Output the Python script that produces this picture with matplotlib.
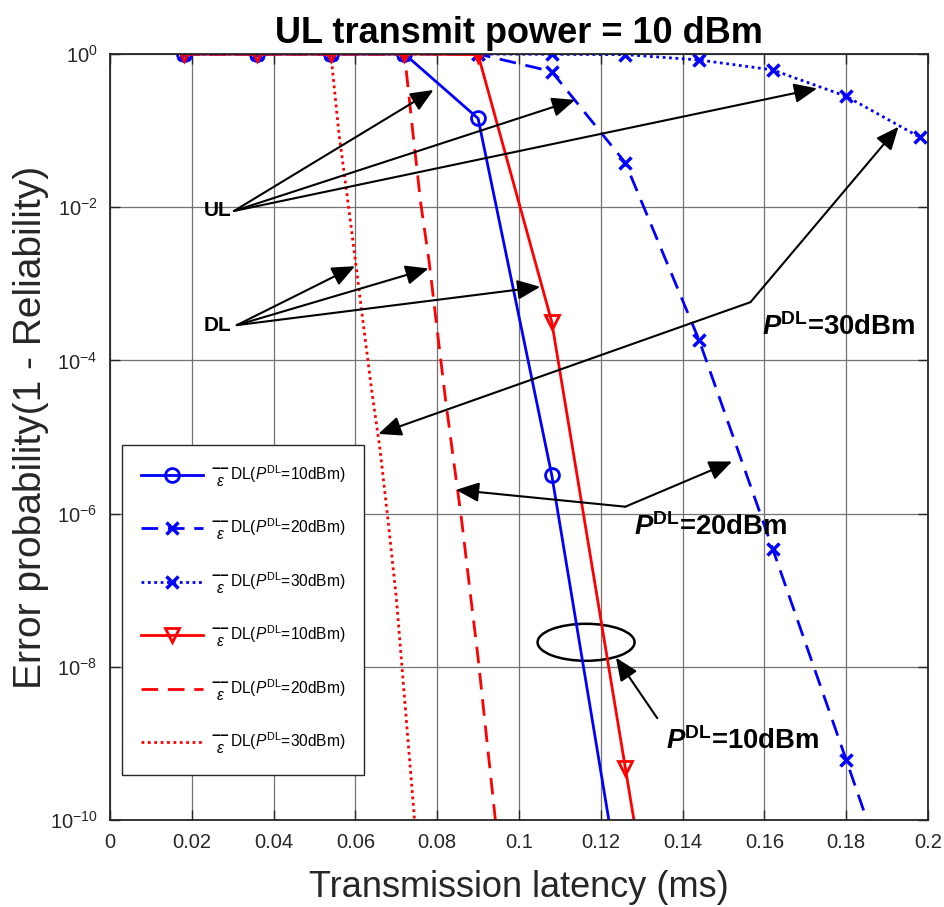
import numpy as np
import matplotlib.pyplot as plt
from matplotlib.patches import Ellipse

plt.rcParams['font.family'] = ['Liberation Sans', 'DejaVu Sans']
plt.rcParams['mathtext.fontset'] = 'custom'
plt.rcParams['mathtext.rm'] = 'Liberation Sans'
plt.rcParams['mathtext.it'] = 'Liberation Sans:italic'
plt.rcParams['mathtext.bf'] = 'Liberation Sans:bold'
plt.rcParams['mathtext.bfit'] = 'Liberation Sans:italic:bold'

# data
x_pts = [0.018, 0.036, 0.054, 0.072, 0.090, 0.108, 0.126, 0.144, 0.162, 0.180, 0.198]
blue_10 = [1, 1, 1, 1, 0.144, 3.2e-6, 5e-12]
blue_20 = [1, 1, 1, 1, 1, 0.59, 0.038, 1.86e-4, 3.5e-7, 6.1e-10, 1e-12]
blue_30 = [1, 1, 1, 1, 1, 0.99, 0.98, 0.835, 0.62, 0.28, 0.082]
red_10 = [1, 1, 1, 1, 0.98, 3.2e-4, 4.8e-10, 7e-16]

x_red20 = [0.018, 0.036, 0.054, 0.072, 0.074, 0.076, 0.078, 0.080, 0.082,
           0.084, 0.086, 0.088, 0.090, 0.092, 0.094, 0.096]
red_20 = [1, 1, 1, 1, 0.1, 1.1e-2, 2e-3, 2.5e-4, 3.2e-5,
          5e-6, 8e-7, 1e-7, 1.3e-8, 1.3e-9, 1.3e-10, 1.3e-11]
x_red30 = [0.018, 0.036, 0.054, 0.056, 0.058, 0.060, 0.062, 0.064, 0.066,
           0.068, 0.070, 0.072, 0.074, 0.076]
red_30 = [1, 1, 1, 8.9e-2, 1.4e-2, 2e-3, 2.8e-4, 4e-5, 7e-6,
          8e-7, 8e-8, 4e-9, 2e-10, 1e-11]

x_ticks = [0, 0.02, 0.04, 0.06, 0.08, 0.1, 0.12, 0.14, 0.16, 0.18, 0.2]
x_ticklabels = ['0', '0.02', '0.04', '0.06', '0.08', '0.1', '0.12', '0.14', '0.16', '0.18', '0.2']
y_exps = [0, -2, -4, -6, -8, -10]

def lab(p):
    bar = '\u2013\u2013'
    return (r'$\genfrac{}{}{0}{0}{\mathbf{' + bar + r'}}{\epsilon}$DL($P^{\mathrm{DL}}$='
            + p + 'dBm)')

dash = (0, (6, 3.5))
dot = (0, (1, 1.3))
lw = 2.0

fig = plt.figure(figsize=(9.45, 9.07), dpi=100)
ax = fig.add_axes([0.1164, 0.0959, 0.8656, 0.8446])

ax.semilogy(x_pts[:len(blue_10)], blue_10, color='b', ls='-', lw=lw, marker='o',
            ms=10, mfc='none', mew=2, label=lab('10'))
ax.semilogy(x_pts, blue_20, color='b', ls=dash, lw=lw, marker='x',
            ms=9, mew=2.5, label=lab('20'))
ax.semilogy(x_pts, blue_30, color='b', ls=dot, lw=lw, marker='x',
            ms=9, mew=2.5, label=lab('30'))
ax.semilogy(x_pts[:len(red_10)], red_10, color='r', ls='-', lw=lw, marker='v',
            ms=10, mfc='none', mew=2, label=lab('10'))
ax.semilogy(x_red20, red_20, color='r', ls=dash, lw=lw, label=lab('20'))
ax.semilogy(x_red30, red_30, color='r', ls=dot, lw=lw, label=lab('30'))

ax.set_xlim(0, 0.2)
ax.set_ylim(1e-10, 1)
ax.set_xticks(x_ticks)
ax.set_xticklabels(x_ticklabels)
ax.set_yticks([10.0 ** e for e in y_exps])
ax.set_yticklabels([r'$\mathregular{10^{%d}}$' % e for e in y_exps])
ax.minorticks_off()
ax.tick_params(direction='in', length=7, width=1, top=True, right=True,
               labelsize=14.5, colors='#262626', pad=9)
for s in ax.spines.values():
    s.set_color('#262626')
    s.set_linewidth(1.3)
ax.grid(True, color='0.45', lw=0.9)
ax.set_axisbelow(True)

ax.set_title('UL transmit power = 10 dBm', fontsize=26, fontweight='bold', pad=8)
ax.set_xlabel('Transmission latency (ms)', fontsize=26, color='#262626', labelpad=13)
ax.set_ylabel('Error probability(1 - Reliability)', fontsize=28, color='#262626')
ax.yaxis.set_label_coords(-0.074, 0.513)

leg = ax.legend(loc='upper left', bbox_to_anchor=(0.0147, 0.4896), borderaxespad=0,
                fontsize=11.2, handlelength=4.0, handletextpad=0.5, labelspacing=1.82,
                borderpad=1.2, fancybox=False, framealpha=1)
leg.get_frame().set_edgecolor('#262626')
leg.get_frame().set_linewidth(1.0)

arrow = dict(arrowstyle='-|>,head_length=0.7,head_width=0.3', color='k', lw=1.5,
             shrinkA=0, shrinkB=0, mutation_scale=20)

# UL arrows
ax.text(0.0296, 10 ** -2.04, 'UL', fontsize=15, fontweight='bold', ha='right', va='center')
for tx, ty in [(0.0791, -0.47), (0.1137, -0.60), (0.1729, -0.45)]:
    ax.annotate('', xy=(tx, 10 ** ty), xytext=(0.0303, 10 ** -2.05), arrowprops=arrow)

# DL arrows
ax.text(0.0296, 10 ** -3.55, 'DL', fontsize=15, fontweight='bold', ha='right', va='center')
for tx, ty in [(0.0599, -2.77), (0.0779, -2.80), (0.1052, -3.04)]:
    ax.annotate('', xy=(tx, 10 ** ty), xytext=(0.031, 10 ** -3.54), arrowprops=arrow)

ptxt = r'$\mathbfit{P}^{\mathbf{DL}}$'
# 30 dBm
ax.text(0.1594, 10 ** -3.56, ptxt + '=30dBm', fontsize=19.8, fontweight='bold', va='center')
for tx, ty in [(0.1928, -0.95), (0.0656, -4.96)]:
    ax.annotate('', xy=(tx, 10 ** ty), xytext=(0.1566, 10 ** -3.24), arrowprops=arrow)

# 20 dBm
ax.text(0.1280, 10 ** -6.18, ptxt + '=20dBm', fontsize=19.8, fontweight='bold', va='center')
for tx, ty in [(0.0846, -5.69), (0.1521, -5.32)]:
    ax.annotate('', xy=(tx, 10 ** ty), xytext=(0.126, 10 ** -5.91), arrowprops=arrow)

# 10 dBm
ax.text(0.1359, 10 ** -8.97, ptxt + '=10dBm', fontsize=19.8, fontweight='bold', va='center')
ax.annotate('', xy=(0.1237, 10 ** -7.88), xytext=(0.1338, 10 ** -8.67), arrowprops=arrow)
ax.add_patch(Ellipse((0.582, 0.232), 0.1186, 0.0483, transform=ax.transAxes,
                     fill=False, edgecolor='k', lw=1.8))

fig.savefig('out.png', dpi=100)
